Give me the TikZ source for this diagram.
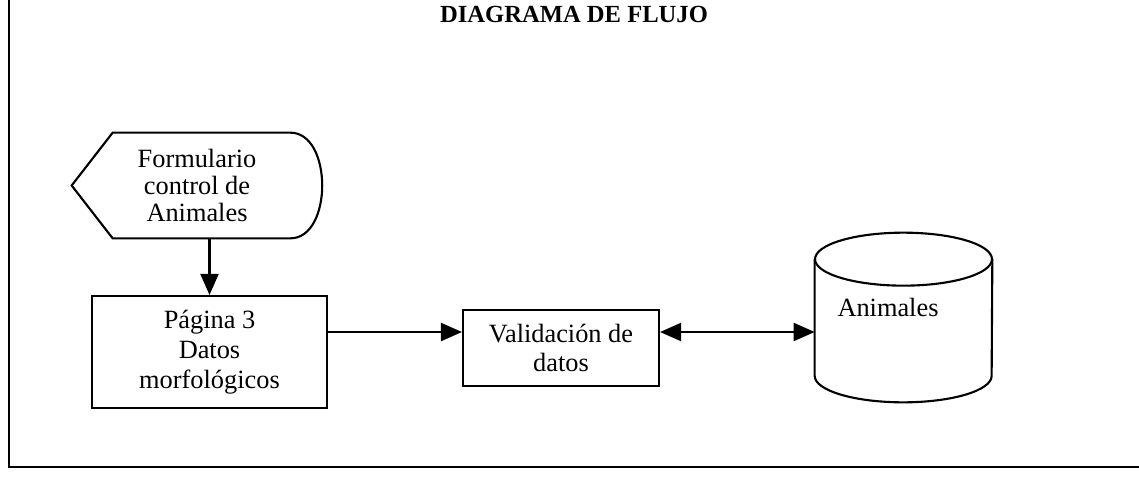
\documentclass[tikz,border=0pt]{standalone}
\usepackage{fontspec}
\setmainfont{Liberation Serif}
\usetikzlibrary{arrows.meta, positioning}

\begin{document}
\begin{tikzpicture}[x=0.02cm, y=-0.02cm,
    block/.style={rectangle, draw, line width=1.2pt, text centered, align=center, font=\fontsize{15}{17}\selectfont},
    ghost/.style={rectangle, align=center, inner sep=0pt, font=\fontsize{15}{15.5}\selectfont},
    outline/.style={draw, line width=1.2pt},
    line/.style={draw, line width=1.2pt, -{Triangle[length=0.42cm, width=0.36cm]}},
    both/.style={draw, line width=1.2pt, {Triangle[length=0.42cm, width=0.36cm]}-{Triangle[length=0.42cm, width=0.36cm]}}]
    \useasboundingbox (0,0) rectangle (1139,480);

    % frame and title
    \draw [line width=0.9pt] (9,0) -- (9,467) -- (1139,467);
    \node [font=\fontsize{14}{16}\selectfont\bfseries] (title) at (574,14) {DIAGRAMA DE FLUJO};

    % display symbol
    \node [ghost, minimum width=5cm, minimum height=2.1cm] (form) at (197,185.5) {Formulario\\control de\\Animales};
    \path [outline] (form.west) -- ([xshift=0.82cm]form.north west) -- ([xshift=-0.64cm]form.north east)
        .. controls ([xshift=0.21cm]form.north east) and ([xshift=0.21cm]form.south east) .. ([xshift=-0.64cm]form.south east)
        -- ([xshift=0.82cm]form.south west) -- cycle;

    \node [block, minimum width=4.7cm, minimum height=2.24cm] (pagina) at (209.5,352) {P\'agina 3\\Datos\\morfol\'ogicos};
    \node [block, minimum width=3.92cm, minimum height=1.52cm, font=\fontsize{15}{16}\selectfont] (valid) at (561,348) {Validaci\'on de\\datos};

    % data store
    \node [rectangle, minimum width=3.54cm, minimum height=3.38cm] (db) at (903.5,317.5) {};
    \path [outline] ([yshift=-0.53cm]db.north west) -- ([yshift=0.53cm]db.south west)
        arc [start angle=180, end angle=360, x radius=1.77cm, y radius=0.53cm]
        -- ([yshift=-0.53cm]db.north east);
    \path [outline] ([yshift=-0.53cm]db.north) ellipse [x radius=1.77cm, y radius=0.53cm];
    \node [font=\fontsize{15}{17}\selectfont] (dbtext) at (888,307) {Animales};

    \coordinate (row) at (0,332);
    \path [line] (pagina.north |- form.south) -- (pagina.north);
    \path [line] (pagina.east |- row) -- (valid.west |- row);
    \path [both] (valid.east |- row) -- (db.west |- row);
\end{tikzpicture}
\end{document}
